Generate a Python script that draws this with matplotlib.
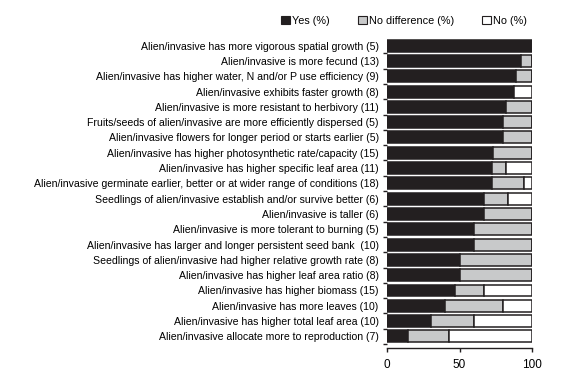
import numpy as np
import matplotlib.pyplot as plt
from matplotlib.patches import Patch

plt.rcParams['font.family'] = ['Liberation Sans', 'DejaVu Sans']

# categories (top to bottom)
labels = [
    'Alien/invasive has more vigorous spatial growth (5)',
    'Alien/invasive is more fecund (13)',
    'Alien/invasive has higher water, N and/or P use efficiency (9)',
    'Alien/invasive exhibits faster growth (8)',
    'Alien/invasive is more resistant to herbivory (11)',
    'Fruits/seeds of alien/invasive are more efficiently dispersed (5)',
    'Alien/invasive flowers for longer period or starts earlier (5)',
    'Alien/invasive has higher photosynthetic rate/capacity (15)',
    'Alien/invasive has higher specific leaf area (11)',
    'Alien/invasive germinate earlier, better or at wider range of conditions (18)',
    'Seedlings of alien/invasive establish and/or survive better (6)',
    'Alien/invasive is taller (6)',
    'Alien/invasive is more tolerant to burning (5)',
    'Alien/invasive has larger and longer persistent seed bank  (10)',
    'Seedlings of alien/invasive had higher relative growth rate (8)',
    'Alien/invasive has higher leaf area ratio (8)',
    'Alien/invasive has higher biomass (15)',
    'Alien/invasive has more leaves (10)',
    'Alien/invasive has higher total leaf area (10)',
    'Alien/invasive allocate more to reproduction (7)',
]

# percentages
yes = [100, 92.3, 88.9, 87.5, 81.8, 80, 80, 73.3, 72.7, 72.2,
       66.7, 66.7, 60, 60, 50, 50, 46.7, 40, 30, 14.3]
no_diff = [0, 7.7, 11.1, 0, 18.2, 20, 20, 26.7, 9.1, 22.2,
           16.6, 33.3, 40, 40, 50, 50, 20, 40, 30, 28.6]
no = [0, 0, 0, 12.5, 0, 0, 0, 0, 18.2, 5.6,
      16.7, 0, 0, 0, 0, 0, 33.3, 20, 40, 57.1]

yes = np.array(yes)
no_diff = np.array(no_diff)
no = np.array(no)
y = np.arange(len(labels))

fig = plt.figure(figsize=(5.63, 3.75), dpi=100)
ax = fig.add_axes([387 / 563, 1 - 348 / 375, 145 / 563, 310 / 375])

dark = '#231f20'
grey = '#c8c9ca'
h = 0.78
lw = 1.1
ax.barh(y, yes, height=h, color=dark, edgecolor=dark, linewidth=lw)
ax.barh(y, no_diff, left=yes, height=h, color=grey, edgecolor=dark, linewidth=lw)
ax.barh(y, no, left=yes + no_diff, height=h, color='white', edgecolor=dark, linewidth=lw)

ax.set_xlim(0, 100)
ax.set_ylim(len(labels) - 0.24, -0.5)
ax.set_xticks([0, 50, 100])
ax.set_yticks(y)
ax.set_yticklabels(labels, fontsize=7.6)
ax.set_yticks(np.arange(len(labels)) + 0.5, minor=True)
ax.tick_params(axis='y', which='major', length=0, pad=6)
ax.tick_params(axis='y', which='minor', length=3, width=1, color=dark)
ax.tick_params(axis='x', labelsize=8.5, length=3, width=1, color=dark, pad=5)

for side in ['top', 'right', 'left']:
    ax.spines[side].set_visible(False)
ax.spines['bottom'].set_color(dark)
ax.spines['bottom'].set_linewidth(1)

# legend
handles = [Patch(facecolor=dark, edgecolor=dark, lw=0.8),
           Patch(facecolor=grey, edgecolor=dark, lw=0.8),
           Patch(facecolor='white', edgecolor=dark, lw=0.8)]
fig.legend(handles, ['Yes (%)', 'No difference (%)', 'No (%)'],
           loc='center', bbox_to_anchor=(404 / 563, 1 - 21 / 375), ncol=3,
           frameon=False, fontsize=7.8, handlelength=0.8, handleheight=0.8,
           handletextpad=0.2, columnspacing=2.6)

plt.savefig('out.png', dpi=100)
